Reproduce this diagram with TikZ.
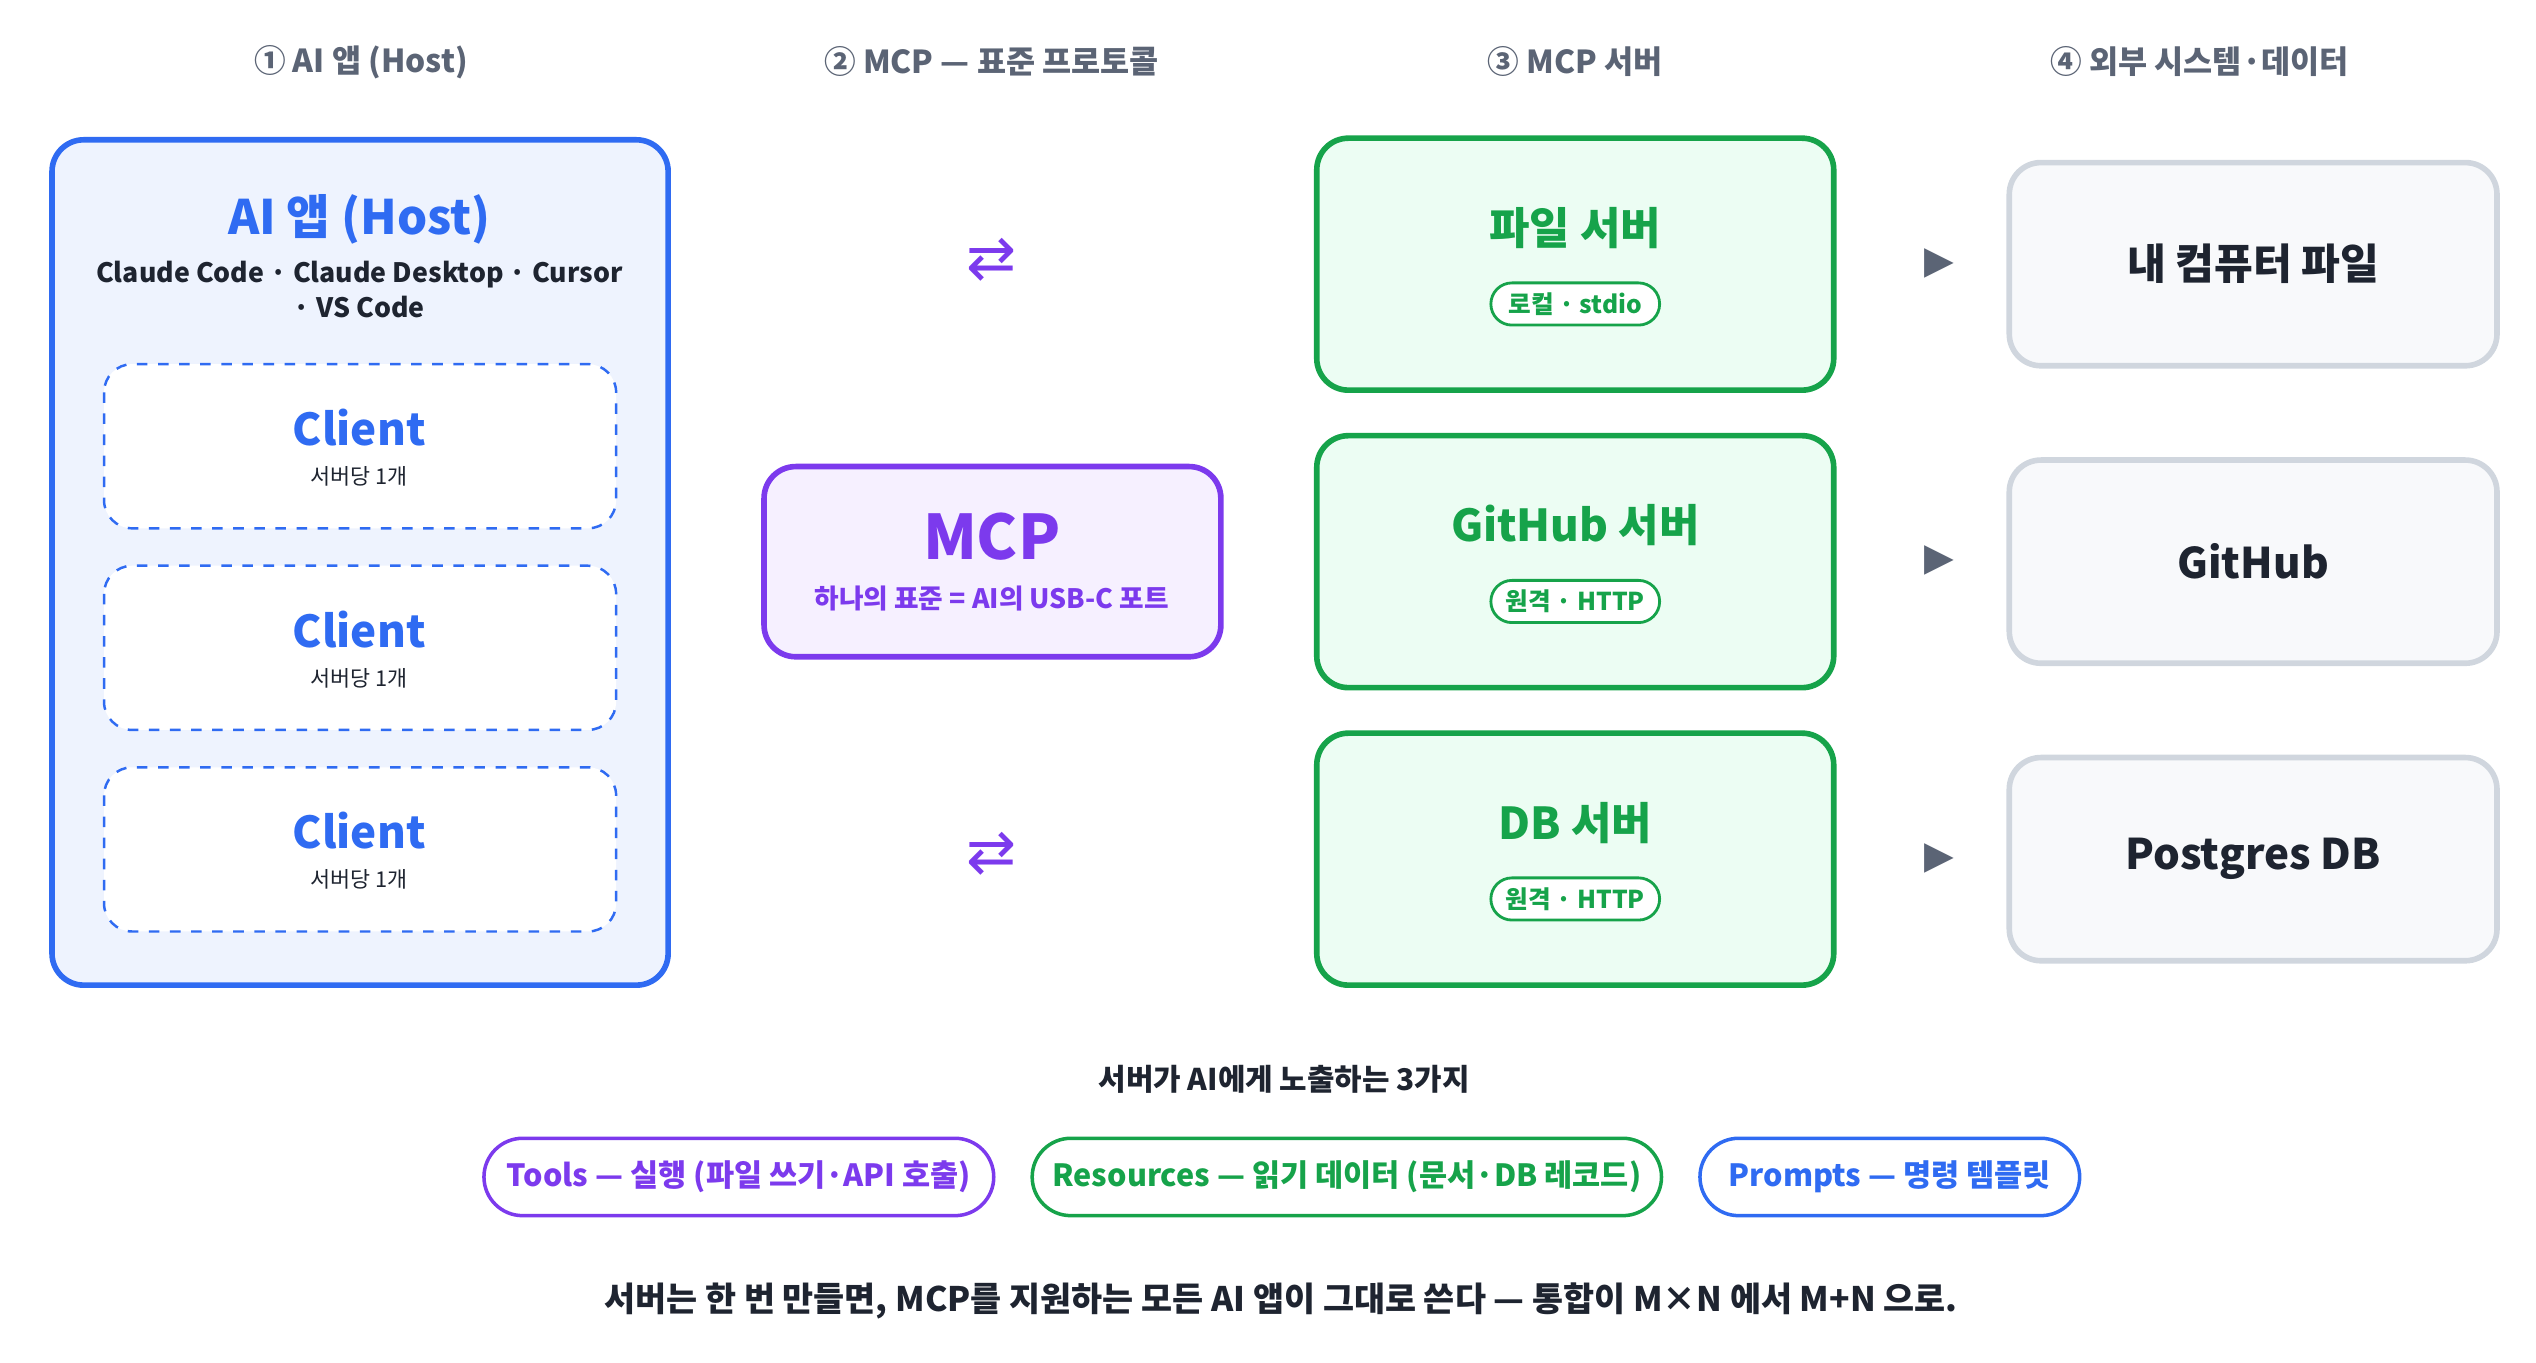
\documentclass[tikz,border=0pt]{standalone}
\usepackage{fontspec}
\setmainfont{Noto Sans CJK KR}
\newfontfamily\sym{DejaVu Sans}
\definecolor{hblue}{HTML}{2F6BF2}
\definecolor{hbluef}{HTML}{EEF3FE}
\definecolor{mpurp}{HTML}{7C3AED}
\definecolor{mpurpf}{HTML}{F6F0FF}
\definecolor{sgreen}{HTML}{16A34A}
\definecolor{sgreenf}{HTML}{ECFDF3}
\definecolor{egray}{HTML}{D0D6DE}
\definecolor{egrayf}{HTML}{F8F9FB}
\definecolor{dark}{HTML}{1E2430}
\definecolor{mid}{HTML}{5B6475}
\begin{document}
\begin{tikzpicture}[x=0.016256cm,y=-0.016256cm,
 hdr/.style={font=\fontsize{9}{10}\selectfont\bfseries,text=mid},
 box/.style={rounded corners=9pt,line width=1.6pt},
 client/.style={draw=hblue,dashed,fill=white,rounded corners=8pt,line width=0.7pt},
 srv/.style={box,draw=sgreen,fill=sgreenf},
 ext/.style={box,draw=egray,fill=egrayf},
 pill/.style={rounded corners=6pt,draw=sgreen,fill=white,line width=0.8pt,font=\fontsize{7}{8}\selectfont\bfseries,text=sgreen,minimum width=48pt,minimum height=12pt,inner sep=1pt},
 bpill/.style={rounded corners=11pt,line width=1pt,fill=white,font=\fontsize{8.7}{10}\selectfont\bfseries,minimum height=22pt,inner sep=2pt},
 tri/.style={font=\sym\fontsize{11}{11}\selectfont,text=mid},
 arr/.style={font=\sym\fontsize{17}{17}\selectfont,text=mpurp}]
\useasboundingbox (0,0) rectangle (1560,838);
\node[hdr] (h1) at (222,38) {① AI 앱 (Host)};
\node[hdr] (h2) at (610,38) {② MCP — 표준 프로토콜};
\node[hdr] (h3) at (969,38) {③ MCP 서버};
\node[hdr] (h4) at (1353,38) {④ 외부 시스템·데이터};
% host
\draw[box,draw=hblue,fill=hbluef] (32,86) rectangle (411,606);
\node[text=hblue,font=\fontsize{13.5}{14}\selectfont\bfseries] (ht) at (221,135) {AI 앱 (Host)};
\node[text=dark,font=\fontsize{7.6}{10}\selectfont\bfseries,align=center] (hs) at (221,178) {Claude Code · Claude Desktop · Cursor\\· VS Code};
\foreach \i/\y in {1/224,2/348,3/472}{
 \draw[client] (64,\y) rectangle (379,\y+101);
 \node[text=hblue,font=\fontsize{12.5}{13}\selectfont\bfseries] (c\i) at (221,\y+39) {Client};
 \node[text=dark,font=\fontsize{6.2}{7}\selectfont] (cs\i) at (221,\y+69) {서버당 1개};
}
% mcp
\draw[box,draw=mpurp,fill=mpurpf] (470,287) rectangle (751,404);
\node[text=mpurp,font=\fontsize{17.5}{18}\selectfont\bfseries] (mcp) at (610,330) {MCP};
\node[text=mpurp,font=\fontsize{7.6}{8}\selectfont\bfseries] (mcps) at (610,368) {하나의 표준 = AI의 USB-C 포트};
\node[arr] (a1) at (610,160) {⇄};
\node[arr] (a2) at (610,525) {⇄};
% servers
\foreach \i/\y/\t/\p in {1/85/파일 서버/로컬 · stdio,2/268/GitHub 서버/원격 · HTTP,3/451/DB 서버/원격 · HTTP}{
 \draw[srv] (810,\y) rectangle (1128,\y+155);
 \node[text=sgreen,font=\fontsize{12.5}{13}\selectfont\bfseries] (s\i) at (969,\y+55) {\t};
 \node[pill] (p\i) at (969,\y+102) {\p};
 \node[tri] (t\i) at (1193,\y+77) {▶};
}
\foreach \i/\y/\t in {1/100/내 컴퓨터 파일,2/283/GitHub,3/466/Postgres DB}{
 \draw[ext] (1236,\y) rectangle (1536,\y+125);
 \node[text=dark,font=\fontsize{12}{13}\selectfont\bfseries] (e\i) at (1386,\y+62) {\t};
}
\node[text=dark,font=\fontsize{8.5}{9}\selectfont\bfseries] (cap) at (790,664) {서버가 AI에게 노출하는 3가지};
\node[bpill,draw=mpurp,text=mpurp,minimum width=145pt] (b1) at (454.5,724) {Tools — 실행 (파일 쓰기·API 호출)};
\node[bpill,draw=sgreen,text=sgreen,minimum width=179pt] (b2) at (828.5,724) {Resources — 읽기 데이터 (문서·DB 레코드)};
\node[bpill,draw=hblue,text=hblue,minimum width=108pt] (b3) at (1162.5,724) {Prompts — 명령 템플릿};
\node[text=dark,font=\fontsize{9.6}{10}\selectfont\bfseries] (foot) at (788,800) {서버는 한 번 만들면, MCP를 지원하는 모든 AI 앱이 그대로 쓴다 — 통합이 M×N 에서 M+N 으로.};
\end{tikzpicture}
\end{document}
